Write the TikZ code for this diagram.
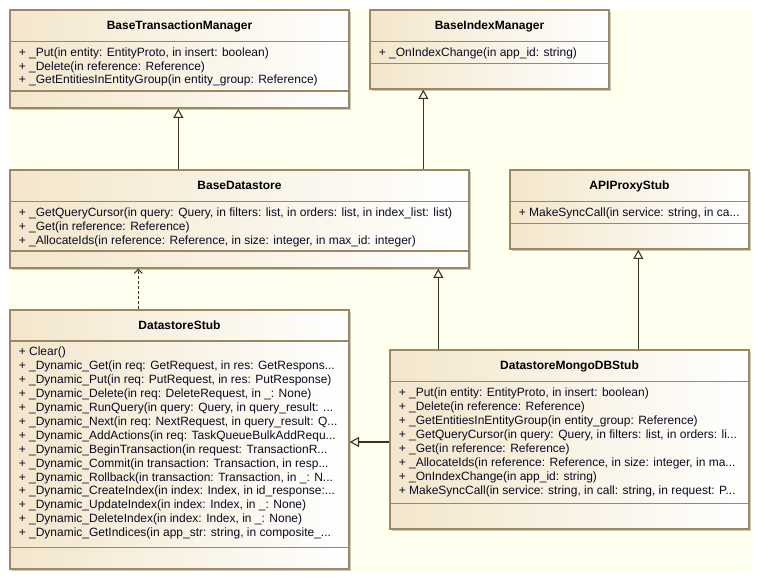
\documentclass[tikz,border=0pt]{standalone}
\usepackage{fontspec}
\setmainfont{Liberation Sans}
\usetikzlibrary{arrows.meta,shadows,fit}
\definecolor{bgyellow}{RGB}{255,255,238}
\definecolor{boxtan}{RGB}{243,230,203}
\definecolor{boxborder}{RGB}{155,137,102}
\definecolor{linecol}{RGB}{60,50,35}
\definecolor{txtcol}{RGB}{10,10,35}
\newcommand{\tdots}{...}
\tikzset{
 classbox/.style={draw=boxborder, line width=1pt, left color=boxtan, right color=white, inner sep=0pt,
   drop shadow={shadow xshift=1.6pt, shadow yshift=-1.6pt, fill=black, opacity=0.2}},
 sepline/.style={draw=boxborder, line width=0.85pt},
 ctitle/.style={font=\bfseries\fontsize{9}{10}\selectfont, text=black, inner sep=0pt, text height=6.4pt, text depth=0pt},
 meth/.style={font=\fontsize{9}{10}\selectfont, text=txtcol, anchor=west, inner sep=0pt, text height=6.4pt, text depth=0pt},
 inherit/.style={draw=linecol, line width=0.8pt, -{Triangle[open, length=7pt, width=7.5pt, line width=0.8pt]}},
 depend/.style={draw=linecol, line width=0.8pt, dashed, dash pattern=on 2.2pt off 1.6pt, -{Straight Barb[length=3pt, width=6pt, line width=0.8pt]}},
}
\begin{document}
\begin{tikzpicture}[x=0.75pt,y=-0.75pt]
\useasboundingbox (0,0) rectangle (761,581);
\fill[bgyellow] (10,10) rectangle (751,571);
% class boxes
\node[classbox, fit={(10,10) (349,108)}] (btm) {};
\node[classbox, fit={(370,10) (609,89)}] (bim) {};
\node[classbox, fit={(10,170) (469,268)}] (bds) {};
\node[classbox, fit={(510,170) (749,249)}] (api) {};
\node[classbox, fit={(10,310) (349,569)}] (dss) {};
\node[classbox, fit={(390,350) (749,529)}] (mongo) {};
% separators
\draw[sepline] (11,41.6) -- (348,41.6) (11,91) -- (348,91);
\draw[sepline] (371,41.6) -- (608,41.6) (371,63.3) -- (608,63.3);
\draw[sepline] (11,201.7) -- (468,201.7) (11,251) -- (468,251);
\draw[sepline] (511,201.7) -- (748,201.7) (511,223.3) -- (748,223.3);
\draw[sepline] (11,341) -- (348,341) (11,547.3) -- (348,547.3);
\draw[sepline] (391,381.7) -- (748,381.7) (391,503.3) -- (748,503.3);
% titles
\node[ctitle] (btm-t) at (179.5,25.5) {BaseTransactionManager};
\node[ctitle] (bim-t) at (489.5,25.5) {BaseIndexManager};
\node[ctitle] (bds-t) at (239.5,185.5) {BaseDatastore};
\node[ctitle] (api-t) at (629.5,185.5) {APIProxyStub};
\node[ctitle] (dss-t) at (179.5,325.5) {DatastoreStub};
\node[ctitle] (mongo-t) at (569.5,365.5) {DatastoreMongoDBStub};
% methods
\foreach \t [count=\i] in {
 {+ \_Put(in entity: EntityProto, in insert: boolean)},
 {+ \_Delete(in reference: Reference)},
 {+ \_GetEntitiesInEntityGroup(in entity\_group: Reference)}}
 \node[meth] (btm-\i) at (18.5,{52.3+13.7*(\i-1)}) {\t};
\node[meth] (bim-1) at (378.5,52.3) {+ \_OnIndexChange(in app\_id: string)};
\foreach \t [count=\i] in {
 {+ \_GetQueryCursor(in query: Query, in filters: list, in orders: list, in index\_list: list)},
 {+ \_Get(in reference: Reference)},
 {+ \_AllocateIds(in reference: Reference, in size: integer, in max\_id: integer)}}
 \node[meth] (bds-\i) at (18.5,{212.3+13.85*(\i-1)}) {\t};
\node[meth] (api-1) at (518.5,212.3) {+ MakeSyncCall(in service: string, in ca\tdots};
\foreach \t [count=\i] in {
 {+ Clear()},
 {+ \_Dynamic\_Get(in req: GetRequest, in res: GetRespons\tdots},
 {+ \_Dynamic\_Put(in req: PutRequest, in res: PutResponse)},
 {+ \_Dynamic\_Delete(in req: DeleteRequest, in \_: None)},
 {+ \_Dynamic\_RunQuery(in query: Query, in query\_result: \tdots},
 {+ \_Dynamic\_Next(in req: NextRequest, in query\_result: Q\tdots},
 {+ \_Dynamic\_AddActions(in req: TaskQueueBulkAddRequ\tdots},
 {+ \_Dynamic\_BeginTransaction(in request: TransactionR\tdots},
 {+ \_Dynamic\_Commit(in transaction: Transaction, in resp\tdots},
 {+ \_Dynamic\_Rollback(in transaction: Transaction, in \_: N\tdots},
 {+ \_Dynamic\_CreateIndex(in index: Index, in id\_response:\tdots},
 {+ \_Dynamic\_UpdateIndex(in index: Index, in \_: None)},
 {+ \_Dynamic\_DeleteIndex(in index: Index, in \_: None)},
 {+ \_Dynamic\_GetIndices(in app\_str: string, in composite\_\tdots}}
 \node[meth] (dss-\i) at (18.5,{351.7+13.9*(\i-1)}) {\t};
\foreach \t [count=\i] in {
 {+ \_Put(in entity: EntityProto, in insert: boolean)},
 {+ \_Delete(in reference: Reference)},
 {+ \_GetEntitiesInEntityGroup(in entity\_group: Reference)},
 {+ \_GetQueryCursor(in query: Query, in filters: list, in orders: li\tdots},
 {+ \_Get(in reference: Reference)},
 {+ \_AllocateIds(in reference: Reference, in size: integer, in ma\tdots},
 {+ \_OnIndexChange(in app\_id: string)},
 {+ MakeSyncCall(in service: string, in call: string, in request: P\tdots}}
 \node[meth] (mongo-\i) at (398.5,{392.3+13.95*(\i-1)}) {\t};
% connector positions
\coordinate (xa) at (178.3,0);
\coordinate (xb) at (423.3,0);
\coordinate (xc) at (138.3,0);
\coordinate (xd) at (438.3,0);
\coordinate (xe) at (638.3,0);
\coordinate (ym) at (0,442);
% connectors
\draw[inherit] (bds.north -| xa) -- (btm.south -| xa);
\draw[inherit] (bds.north -| xb) -- (bim.south -| xb);
\draw[depend] (dss.north -| xc) -- (bds.south -| xc);
\draw[inherit] (mongo.north -| xd) -- (bds.south -| xd);
\draw[inherit] (mongo.north -| xe) -- (api.south -| xe);
\draw[inherit] (mongo.west |- ym) -- (dss.east |- ym);
\end{tikzpicture}
\end{document}
